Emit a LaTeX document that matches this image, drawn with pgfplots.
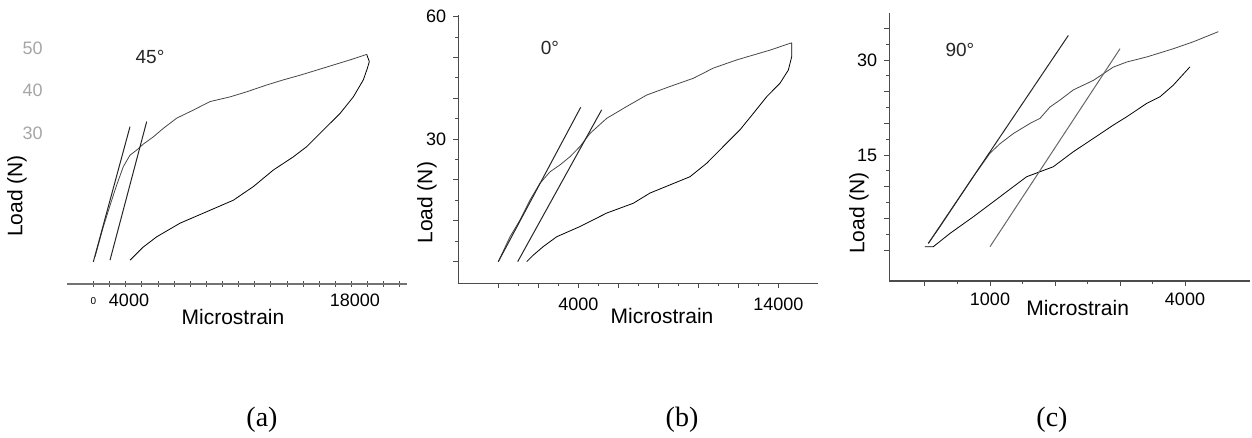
\documentclass[border=0pt]{standalone}
\usepackage{fontspec}
\setmainfont{Liberation Sans}
\newfontfamily\capfont{Liberation Serif}
\usepackage{pgfplots}
\pgfplotsset{compat=1.18}

\pgfplotsset{
  panel/.style={
    scale only axis, anchor=south west, clip=false,
    axis lines*=left,
    axis line style={black!70, line width=0.6pt},
    tick style={black!70, line width=0.5pt},
    tick align=outside,
    major tick length=2.5pt, minor tick length=1.5pt,
    tick label style={font=\fontsize{9}{9}\selectfont},
    label style={font=\fontsize{10.5}{11}\selectfont},
    ylabel style={anchor=center},
    xlabel style={anchor=center},
    scaled x ticks=false, scaled y ticks=false,
    cycle list={{black!72, no marks, line width=0.6pt}},
  },
}
\tikzset{deg/.style={font=\fontsize{9.5}{10}\selectfont, black!85}}

\begin{document}
\begin{tikzpicture}
\useasboundingbox (0,0) rectangle (626pt,219pt);

% (a) 45 deg
\begin{axis}[panel,
  at={(33.35pt,77pt)}, width=170pt, height=122.25pt,
  xmin=137, xmax=21217, ymin=-5.5, ymax=52,
  y axis line style={draw=none},
  axis line style={black!55},
  tick align=center, major tick length=3pt,
  xtick={1800,2800,...,20800},
  xticklabels={{\fontsize{5}{5}\selectfont 0}},
  extra x ticks={4000,18000}, extra x tick labels={4000,18000},
  extra x tick style={major tick length=0pt},
  xticklabel style={yshift=-1.5pt},
  ytick={30,40,50}, yticklabels={30,40,50},
  ytick style={draw=none},
  yticklabel style={black!35, xshift=-7pt},
  xlabel={Microstrain}, ylabel={Load (N)},
  xlabel style={at={(axis description cs:0.489,-0.135)}},
  ylabel style={at={(axis description cs:-0.146,0.36)}},
]
% loading
\addplot coordinates {
  (1892,0.9) (2407,7.95) (2927,14.2) (3237,17.8) (3647,22.1) (4062,24.8)
  (4477,26.0) (4887,27.4) (5507,29.1) (6127,31.1) (6957,33.5) (7987,35.4)
  (9022,37.4) (10262,38.5) (11297,39.7) (12537,41.3) (13567,42.5)
  (14602,43.6) (15637,44.8) (16667,46.0) (17702,47.2) (18737,48.5)
};
% unloading
\addplot coordinates {
  (18737,48.5) (18899,46.8) (18775,45.2) (18527,42.5) (17907,38.5)
  (17082,34.6) (16047,30.7) (15017,26.8) (14187,24.4) (12947,21.3)
  (11707,17.4) (10467,14.2) (8817,11.5) (7162,8.8) (5717,5.6)
  (4887,3.2) (4062,0.1)
};
% tangent lines
\addplot[black!85, line width=0.5pt] coordinates {(1787,-0.3) (4062,31.5)};
\addplot[black!85, line width=0.5pt] coordinates {(2822,0.1) (5097,32.7)};
\node[deg] at (axis cs:5302,48.0) {45°};
\end{axis}

% (b) 0 deg
\begin{axis}[panel,
  at={(229.15pt,77.35pt)}, width=180pt, height=134.15pt,
  xmin=-2000, xmax=16000, ymin=-5.3, ymax=60.4,
  xtick={0,2000,...,14000}, xticklabels={,,4000,,,,,14000},
  minor x tick num=1,
  ytick={0,10,...,60}, yticklabels={,,,30,,,60},
  minor y tick num=1,
  xticklabel style={yshift=-1.5pt},
  xlabel={Microstrain}, ylabel={Load (N)},
  xlabel style={at={(axis description cs:0.566,-0.122)}},
  ylabel style={at={(axis description cs:-0.087,0.30)}},
]
\addplot coordinates {
  (0,0) (585,6.1) (1085,10.2) (1585,15.1) (2085,19.2) (2585,22.0)
  (3085,23.7) (3585,25.7) (4085,28.2) (4585,31.4) (5420,35.1)
  (6420,38.0) (7420,40.8) (8585,42.9) (9750,44.9) (10750,47.4)
  (11920,49.4) (12750,50.6) (13585,51.8) (14670,53.6)
};
\addplot coordinates {
  (14670,53.6) (14670,50.2) (14500,46.9) (14085,43.7) (13420,40.4)
  (12750,36.3) (12085,32.3) (11250,28.2) (10420,24.1) (9585,20.8)
  (8585,18.8) (7585,16.8) (6750,14.3) (5420,11.9) (4085,8.6)
  (2920,6.1) (2250,3.7) (1750,1.6) (1420,0)
};
\addplot[black!85, line width=0.5pt] coordinates {(0,0) (4120,37.8)};
\addplot[black!85, line width=0.5pt] coordinates {(970,0) (5170,37.2)};
\node[deg] at (axis cs:2585,52.3) {0°};
\end{axis}

% (c) 90 deg
\begin{axis}[panel,
  at={(444.65pt,78.5pt)}, width=180.35pt, height=133.85pt,
  xmin=-549, xmax=5000, ymin=-4.89, ymax=37.4,
  xtick={0,1000,...,4000}, xticklabels={,1000,,,4000},
  minor x tick num=1,
  ytick={0,5,...,35}, yticklabels={,,,15,,,30,},
  minor y tick num=1,
  xlabel={Microstrain}, ylabel={Load (N)},
  xlabel style={at={(axis description cs:0.522,-0.099)}},
  ylabel style={at={(axis description cs:-0.084,0.254)}},
]
% upper curve
\addplot coordinates {
  (51,1.05) (231,3.68) (487,7.63) (744,11.6) (1000,15.3) (1154,16.8)
  (1359,18.4) (1615,20.0) (1769,20.8) (1923,22.6) (2077,23.7)
  (2282,25.3) (2590,26.8) (2897,28.9) (3103,29.7) (3410,30.5)
  (3820,31.8) (4128,32.9) (4513,34.5)
};
% lower curve
\addplot coordinates {
  (0,0.53) (128,0.53) (385,2.63) (744,5.26) (1154,8.42) (1564,11.58)
  (1769,12.37) (1974,13.16) (2282,15.53) (2590,17.63) (2897,19.74)
  (3103,21.05) (3410,23.16) (3615,24.21) (3820,26.05) (4077,28.95)
};
\addplot[black!85, line width=0.5pt] coordinates {(51,1.05) (2205,33.9)};
\addplot[black!60, line width=0.5pt] coordinates {(1000,0.53) (3000,31.8)};
\node[deg] at (axis cs:538,31.6) {90°};
\end{axis}

\node[font=\capfont\fontsize{14}{14}\selectfont] at (131pt,9pt) {(a)};
\node[font=\capfont\fontsize{14}{14}\selectfont] at (341pt,9pt) {(b)};
\node[font=\capfont\fontsize{14}{14}\selectfont] at (526pt,9pt) {(c)};
\end{tikzpicture}
\end{document}
